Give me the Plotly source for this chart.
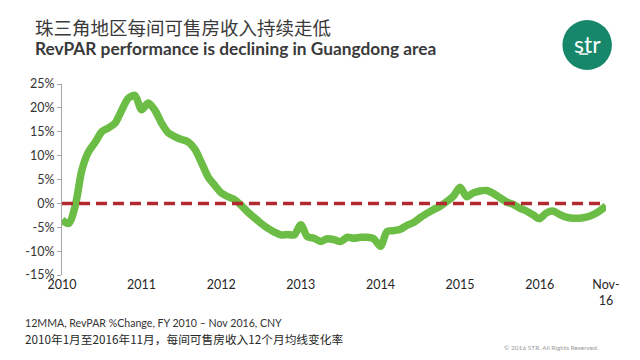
import plotly.graph_objects as go

# Monthly 12MMA RevPAR % change, Jan 2010 .. Nov 2016 (83 months)
months = list(range(83))
revpar_change = [
    -3.5, -4.2, -0.5, 7.0, 10.8, 12.8, 15.0, 15.8, 16.8, 19.5, 22.0, 22.6,
    19.6, 21.0, 19.5, 16.8, 14.8, 14.0, 13.4, 12.9, 11.4, 8.6, 5.6, 3.8,
    2.2, 1.4, 0.8, -0.4, -1.8, -3.0, -4.2, -5.2, -6.0, -6.6, -6.5, -6.6,
    -4.5, -7.0, -7.3, -8.0, -7.4, -7.6, -8.0, -7.1, -7.3, -7.1, -7.1, -7.4,
    -9.0, -5.9, -5.7, -5.4, -4.6, -4.0, -3.0, -2.1, -1.3, -0.6, 0.4, 1.5,
    3.4, 1.4, 2.2, 2.6, 2.7, 2.1, 1.2, 0.3, -0.2, -1.0, -1.6, -2.4,
    -3.2, -2.0, -1.6, -2.3, -2.9, -3.1, -3.1, -2.9, -2.4, -1.6, -0.5,
]
tick_positions = [0, 12, 24, 36, 48, 60, 72, 82]
tick_labels = ["2010", "2011", "2012", "2013", "2014", "2015", "2016", "Nov-<br>16"]
y_ticks = [-15, -10, -5, 0, 5, 10, 15, 20, 25]
y_tick_labels = [f"{v}%" for v in y_ticks]
baseline_x = [0, 82]
baseline_y = [0, 0]

title_cn = "珠三角地区每间可售房收入持续走低"
title_en = "RevPAR performance is declining in Guangdong area"
note_en = "12MMA, RevPAR %Change, FY 2010 – Nov 2016, CNY"
note_cn = "2010年1月至2016年11月，每间可售房收入12个月均线变化率"
copyright_text = "© 2016 STR. All Rights Reserved."

GREEN = "#6CBD45"
RED = "#B22A30"
TEAL = "#16876A"

fig = go.Figure()
fig.add_trace(go.Scatter(
    x=months, y=revpar_change, mode="lines",
    line=dict(color=GREEN, width=7.5, shape="spline", smoothing=0.8),
    hoverinfo="skip", showlegend=False,
))
fig.add_trace(go.Scatter(
    x=baseline_x, y=baseline_y, mode="lines",
    line=dict(color=RED, width=3.5, dash="11px,6px"),
    hoverinfo="skip", showlegend=False,
))

# page has an 8px body margin; figure sized so it fits in the 640x360 window
OFF = 8
W, H = 624, 344
PL, PR, PT, PB = 62, 611, 84, 275  # plot area in page pixels
L = PL - OFF
R = W - (PR - OFF)
T = PT - OFF
B = H - (PB - OFF)
pw, ph = PR - PL, PB - PT


def px(x):
    return (x - PL) / pw


def py(y):
    return (PB - y) / ph


fig.update_layout(
    width=W, height=H, autosize=False,
    margin=dict(l=L, r=R, t=T, b=B, pad=0),
    paper_bgcolor="white", plot_bgcolor="white",
    font=dict(family="Lato, 'Open Sans', sans-serif", color="#333333", size=12),
    xaxis=dict(
        range=[0, 82], tickvals=tick_positions, ticktext=tick_labels,
        showgrid=False, zeroline=False, showline=False, ticks="",
        tickfont=dict(size=12.5, color="#262626"), fixedrange=True,
    ),
    yaxis=dict(
        range=[-15, 25], tickvals=y_ticks, ticktext=y_tick_labels,
        showgrid=False, zeroline=False, showline=True, linecolor="#A6A6A6",
        linewidth=1, ticks="outside", ticklen=4, tickcolor="#A6A6A6",
        tickfont=dict(size=12.5, color="#333333"), fixedrange=True,
    ),
    shapes=[
        dict(type="circle", xref="paper", yref="paper",
             x0=px(567), x1=px(617), y0=py(70), y1=py(20),
             fillcolor=TEAL, line=dict(width=0)),
        dict(type="line", xref="paper", yref="paper",
             x0=px(584), x1=px(593), y0=py(54), y1=py(54),
             line=dict(color="white", width=1.5)),
    ],
    annotations=[
        dict(text=title_cn, x=px(33), y=py(27), xref="paper", yref="paper",
             xanchor="left", yanchor="middle", showarrow=False,
             font=dict(family="Noto Sans CJK SC", size=18.5, color="#3a3a3a")),
        dict(text="<b>" + title_en + "</b>", x=px(33), y=py(49), xref="paper", yref="paper",
             xanchor="left", yanchor="middle", showarrow=False,
             font=dict(family="Lato", size=17.3, color="#3a3a3a")),
        dict(text="str", x=px(592), y=py(44), xref="paper", yref="paper",
             xanchor="center", yanchor="middle", showarrow=False,
             font=dict(family="Lato", size=23, color="white")),
        dict(text=note_en, x=px(23), y=py(323), xref="paper", yref="paper",
             xanchor="left", yanchor="middle", showarrow=False,
             font=dict(family="Lato", size=10.6, color="#333333")),
        dict(text=note_cn, x=px(23), y=py(338), xref="paper", yref="paper",
             xanchor="left", yanchor="middle", showarrow=False,
             font=dict(family="Noto Sans CJK SC", size=11.7, color="#262626")),
        dict(text=copyright_text, x=px(606), y=py(347), xref="paper", yref="paper",
             xanchor="right", yanchor="middle", showarrow=False,
             font=dict(family="Lato", size=6.5, color="#999999")),
    ],
)

fig.write_html("out.html")
